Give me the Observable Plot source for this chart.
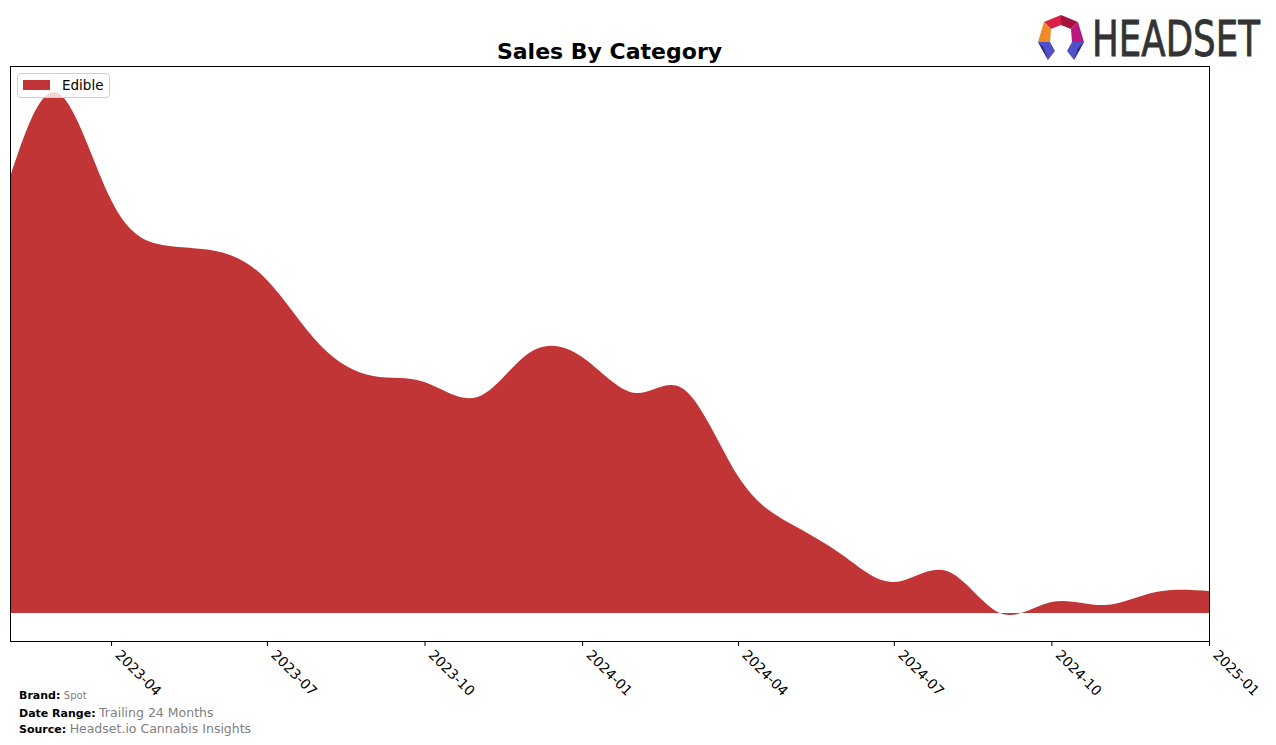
<!DOCTYPE html>
<html>
<head>
<meta charset="utf-8">
<script src="https://cdn.jsdelivr.net/npm/d3@7"></script>
<script src="https://cdn.jsdelivr.net/npm/@observablehq/plot@0.6"></script>
<style>
  html, body { margin: 0; padding: 0; background: #fff; }
  #wrap { position: relative; width: 1276px; height: 745px; font-family: "DejaVu Sans", sans-serif; overflow: hidden; }
  #chart { position: absolute; left: 0; top: 0; }
  #title { position: absolute; left: 10px; width: 1199px; top: 39px; text-align: center; font-weight: bold; font-size: 22px; line-height: 26px; color: #000; }
  #legend { position: absolute; left: 17px; top: 73px; width: 93px; height: 25px; border: 1px solid #d0d0d0; border-radius: 4px; background: rgba(255,255,255,0.8); box-sizing: border-box; }
  #legend .sw { position: absolute; left: 5px; top: 6px; width: 27px; height: 10px; background: #c13537; }
  #legend .lb { position: absolute; left: 44px; top: 3px; font-size: 13.5px; color: #000; }
  .foot { position: absolute; left: 19px; font-size: 11px; color: #000; white-space: nowrap; }
  .foot b { font-weight: bold; }
  .foot span { color: #808080; }
  #logo { position: absolute; left: 1030px; top: 8px; }
</style>
</head>
<body>
<div id="wrap">
  <div id="chart"></div>
  <div id="title">Sales By Category</div>
  <div id="legend"><div class="sw"></div><div class="lb">Edible</div></div>
  <div class="foot" style="top:689px;"><b>Brand:</b> <span style="font-size:10px;">Spot</span></div>
  <div class="foot" style="top:705px;"><b>Date Range:</b> <span style="font-size:12.5px;">Trailing 24 Months</span></div>
  <div class="foot" style="top:721px;"><b>Source:</b> <span style="font-size:12.5px;">Headset.io Cannabis Insights</span></div>
  <svg id="logo" width="246" height="60" viewBox="1030 8 246 60">
    <polygon points="1044,22 1061,15 1061,25 1051,29" fill="#d91f45"/>
    <polygon points="1061,15 1078,22 1071,29 1061,25" fill="#a3123f"/>
    <polygon points="1044,22 1051,29 1050,42 1038,42" fill="#f08a24"/>
    <polygon points="1078,22 1084,42 1072,42 1071,29" fill="#b8197f"/>
    <polygon points="1038,42 1050,42 1055,51 1048,60" fill="#5150c8"/>
    <polygon points="1038,42 1048,60 1044,48" fill="#2d2f8a"/>
    <polygon points="1084,42 1072,42 1067,51 1074,60" fill="#5150c8"/>
    <polygon points="1084,42 1074,60 1078,48" fill="#2d2f8a"/>
    <text id="logotext" x="0" y="0" transform="translate(1092,56) scale(0.78,1)" font-family="DejaVu Sans Condensed, DejaVu Sans" font-size="50" fill="#333333" stroke="#333333" stroke-width="0.8">HEADSET</text>
  </svg>
</div>
<script>
// Monthly sales (arbitrary units)
const months = ["2023-02","2023-03","2023-04","2023-05","2023-06","2023-07","2023-08","2023-09","2023-10","2023-11","2023-12","2024-01","2024-02","2024-03","2024-04","2024-05","2024-06","2024-07","2024-08","2024-09","2024-10","2024-11","2024-12","2025-01"];
const edible = [436,520,413,368,362,333,268,237,231,216,260,256,220,223,137,90,58,31,42,0,11,8,21,22];
const tickLabels = ["2023-04","2023-07","2023-10","2024-01","2024-04","2024-07","2024-10","2025-01"];

const parse = d3.utcParse("%Y-%m");
const data = months.map((m, i) => ({date: parse(m), value: edible[i]}));
const ticks = tickLabels.map(parse);

// fit logo word to 168px
const lt = document.getElementById("logotext");
const natural = lt.getComputedTextLength();
if (natural > 0) lt.setAttribute("transform", `translate(1092,56) scale(${168 / natural},1)`);

const chart = Plot.plot({
  width: 1276,
  height: 745,
  marginLeft: 10,
  marginRight: 67,
  marginTop: 66,
  marginBottom: 104,
  style: {fontFamily: "DejaVu Sans, sans-serif", color: "#000", background: "transparent"},
  x: {type: "utc", domain: [parse(months[0]), parse(months[months.length - 1])]},
  y: {domain: [-28, 547], axis: null},
  marks: [
    Plot.areaY(data, {x: "date", y: "value", curve: "natural", fill: "#c13537"}),
    Plot.frame({stroke: "#000", strokeWidth: 1}),
    Plot.axisX({ticks: ticks, tickSize: 5, tickFormat: () => "", stroke: "#000"}),
    Plot.axisX({ticks: ticks, tickFormat: d3.utcFormat("%Y-%m"), tickRotate: 45, tickSize: 0, tickPadding: 9, fontSize: 13.9, dx: 6, dy: 2})
  ]
});
document.getElementById("chart").appendChild(chart);
</script>
</body>
</html>
